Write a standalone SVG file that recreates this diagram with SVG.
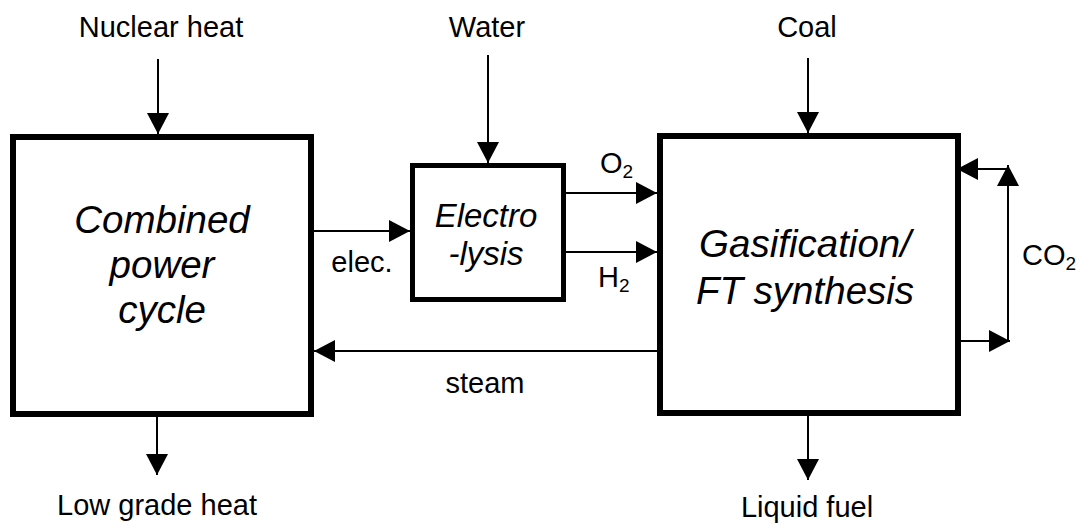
<svg xmlns="http://www.w3.org/2000/svg" width="1076" height="523" viewBox="0 0 1076 523">
<style>
.box{fill:#fff;stroke:#000;stroke-width:6}
.small{stroke-width:5}
.ln{fill:none;stroke:#000;stroke-width:2}
.lbl{font-family:"Liberation Sans",Arial,sans-serif;font-size:29px;fill:#000}
.big{font-family:"Liberation Sans",Arial,sans-serif;font-style:italic;font-size:38.5px;fill:#000;text-anchor:middle}
.mid{font-family:"Liberation Sans",Arial,sans-serif;font-style:italic;font-size:33px;fill:#000;text-anchor:middle}
</style>
<defs>
<marker id="ah" markerUnits="userSpaceOnUse" markerWidth="21" markerHeight="22" refX="21" refY="11" orient="auto" viewBox="0 0 21 22">
<path d="M0,0 L21,11 L0,22 z" fill="#000"/>
</marker>
</defs>
<rect width="1076" height="523" fill="#fff"/>
<g id="connectors">
<line class="ln" x1="158" y1="59" x2="158" y2="134" marker-end="url(#ah)"/>
<line class="ln" x1="488" y1="55" x2="488" y2="163" marker-end="url(#ah)"/>
<line class="ln" x1="808" y1="58" x2="808" y2="133" marker-end="url(#ah)"/>
<line class="ln" x1="314" y1="231" x2="410" y2="231" marker-end="url(#ah)"/>
<line class="ln" x1="566" y1="193" x2="657" y2="193" marker-end="url(#ah)"/>
<line class="ln" x1="566" y1="252" x2="657" y2="252" marker-end="url(#ah)"/>
<line class="ln" x1="664" y1="351" x2="314" y2="351" marker-end="url(#ah)"/>
<line class="ln" x1="961" y1="341" x2="1010" y2="341" marker-end="url(#ah)"/>
<line class="ln" x1="1008" y1="341" x2="1008" y2="165" marker-end="url(#ah)"/>
<line class="ln" x1="1008" y1="169" x2="957" y2="169" marker-end="url(#ah)"/>
<line class="ln" x1="157" y1="417" x2="157" y2="475" marker-end="url(#ah)"/>
<line class="ln" x1="808" y1="416" x2="808" y2="480" marker-end="url(#ah)"/>
</g>
<g id="power">
<rect class="box" x="13" y="137" width="298" height="277"/>
<text class="big" x="162" y="233">Combined</text>
<text class="big" x="162" y="278">power</text>
<text class="big" x="162" y="323">cycle</text>
</g>
<g id="electrolysis">
<rect class="box small" x="412.5" y="165.5" width="151" height="134"/>
<text class="mid" x="486" y="227">Electro</text>
<text class="mid" x="486" y="265">-lysis</text>
</g>
<g id="gasification">
<rect class="box" x="660" y="136" width="298" height="277"/>
<text class="big" x="805" y="257">Gasification/</text>
<text class="big" x="805" y="304">FT synthesis</text>
</g>
<g id="labels">
<text class="lbl" x="161" y="37" text-anchor="middle">Nuclear heat</text>
<text class="lbl" x="487" y="37" text-anchor="middle">Water</text>
<text class="lbl" x="807" y="37" text-anchor="middle">Coal</text>
<text class="lbl" x="157" y="515" text-anchor="middle">Low grade heat</text>
<text class="lbl" x="807" y="517" text-anchor="middle">Liquid fuel</text>
<text class="lbl" x="485" y="393" text-anchor="middle">steam</text>
<text class="lbl" x="362" y="272" text-anchor="middle">elec.</text>
<text class="lbl" x="600" y="173">O<tspan font-size="19" dy="5">2</tspan></text>
<text class="lbl" x="598" y="287">H<tspan font-size="19" dy="5">2</tspan></text>
<text class="lbl" x="1022" y="265">CO<tspan font-size="19" dy="5">2</tspan></text>
</g>
</svg>
